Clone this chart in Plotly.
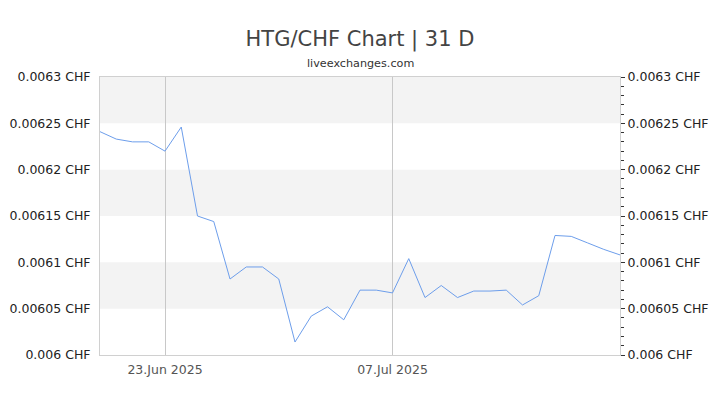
import plotly.graph_objects as go

# daily HTG/CHF closes, 19 Jun 2025 .. 21 Jul 2025
dates = [
    "2025-06-19", "2025-06-20", "2025-06-21", "2025-06-22", "2025-06-23",
    "2025-06-24", "2025-06-25", "2025-06-26", "2025-06-27", "2025-06-28",
    "2025-06-29", "2025-06-30", "2025-07-01", "2025-07-02", "2025-07-03",
    "2025-07-04", "2025-07-05", "2025-07-06", "2025-07-07", "2025-07-08",
    "2025-07-09", "2025-07-10", "2025-07-11", "2025-07-12", "2025-07-13",
    "2025-07-14", "2025-07-15", "2025-07-16", "2025-07-17", "2025-07-18",
    "2025-07-19", "2025-07-20", "2025-07-21",
]
rates = [
    0.006241, 0.006233, 0.006230, 0.006230, 0.006220,
    0.006246, 0.006150, 0.006144, 0.006082, 0.006095,
    0.006095, 0.006082, 0.006014, 0.006042, 0.006052,
    0.006038, 0.006070, 0.006070, 0.006067, 0.006104,
    0.006062, 0.006075, 0.006062, 0.006069, 0.006069,
    0.006070, 0.006054, 0.006064, 0.006129, 0.006128,
    0.006121, 0.006114, 0.006108,
]

y_ticks = [0.006, 0.00605, 0.0061, 0.00615, 0.0062, 0.00625, 0.0063]
y_labels = ["0.006 CHF", "0.00605 CHF", "0.0061 CHF", "0.00615 CHF",
            "0.0062 CHF", "0.00625 CHF", "0.0063 CHF"]
x_ticks = ["2025-06-23", "2025-07-07"]
x_labels = ["23.Jun 2025", "07.Jul 2025"]

FONT = "DejaVu Sans"

fig = go.Figure()

fig.add_trace(go.Scatter(
    x=dates, y=rates,
    mode="lines",
    line=dict(color="#6d9eeb", width=1),
    hoverinfo="x+y",
    showlegend=False,
))
# invisible trace so the right axis gets drawn
fig.add_trace(go.Scatter(
    x=[dates[0]], y=[rates[0]], yaxis="y2",
    mode="markers", marker=dict(opacity=0),
    showlegend=False, hoverinfo="skip",
))

# alternating horizontal bands
shapes = []
for i in range(len(y_ticks) - 1):
    if i % 2 == 1:
        shapes.append(dict(
            type="rect", xref="paper", yref="y",
            x0=0, x1=1, y0=y_ticks[i], y1=y_ticks[i + 1],
            fillcolor="#f3f3f3", line=dict(width=0), layer="below",
        ))

yrange = [y_ticks[0], y_ticks[-1]]

# page body adds an 8px offset, so margins are shifted to compensate
fig.update_layout(
    width=720, height=405,
    margin=dict(l=92, r=108, t=69, b=58),
    paper_bgcolor="white",
    plot_bgcolor="white",
    font=dict(family=FONT, size=12.5, color="#222"),
    title=dict(
        text="HTG/CHF Chart | 31 D",
        x=0.5, xanchor="center", xref="paper",
        y=1 - 31 / 405, yanchor="middle", yref="container",
        font=dict(family=FONT, size=21, color="#444"),
    ),
    annotations=[dict(
        text="liveexchanges.com", showarrow=False,
        xref="paper", yref="paper", x=0.5, y=1 + 14 / 278,
        xanchor="center", yanchor="middle",
        font=dict(family=FONT, size=11.2, color="#333"),
    )],
    shapes=shapes,
    xaxis=dict(
        type="date",
        range=[dates[0], dates[-1]],
        tickvals=x_ticks, ticktext=x_labels,
        showgrid=True, gridcolor="#c8c8c8", gridwidth=1,
        ticks="outside", ticklen=3, tickcolor="rgba(0,0,0,0)",
        tickfont=dict(family=FONT, size=12.5, color="#555"),
        showline=True, linecolor="#d0d0d0", mirror=True,
        zeroline=False, automargin=False,
    ),
    yaxis=dict(
        range=yrange,
        tickvals=y_ticks, ticktext=y_labels,
        showgrid=False, zeroline=False,
        ticks="outside", ticklen=6, tickcolor="rgba(0,0,0,0)",
        tickfont=dict(family=FONT, size=12.5, color="#222"),
        showline=True, linecolor="#d0d0d0", mirror=True,
        automargin=False,
    ),
    yaxis2=dict(
        overlaying="y", side="right",
        range=yrange,
        tickvals=y_ticks, ticktext=y_labels,
        showgrid=False, zeroline=False,
        ticks="outside", ticklen=4, tickcolor="#333", tickwidth=1,
        tickfont=dict(family=FONT, size=12.5, color="#222"),
        minor=dict(ticks="outside", tick0=0.006, dtick=0.00001,
                   ticklen=3, tickcolor="#333", tickwidth=1, showgrid=False),
        showline=False, automargin=False,
    ),
)

fig.write_html("out.html")
